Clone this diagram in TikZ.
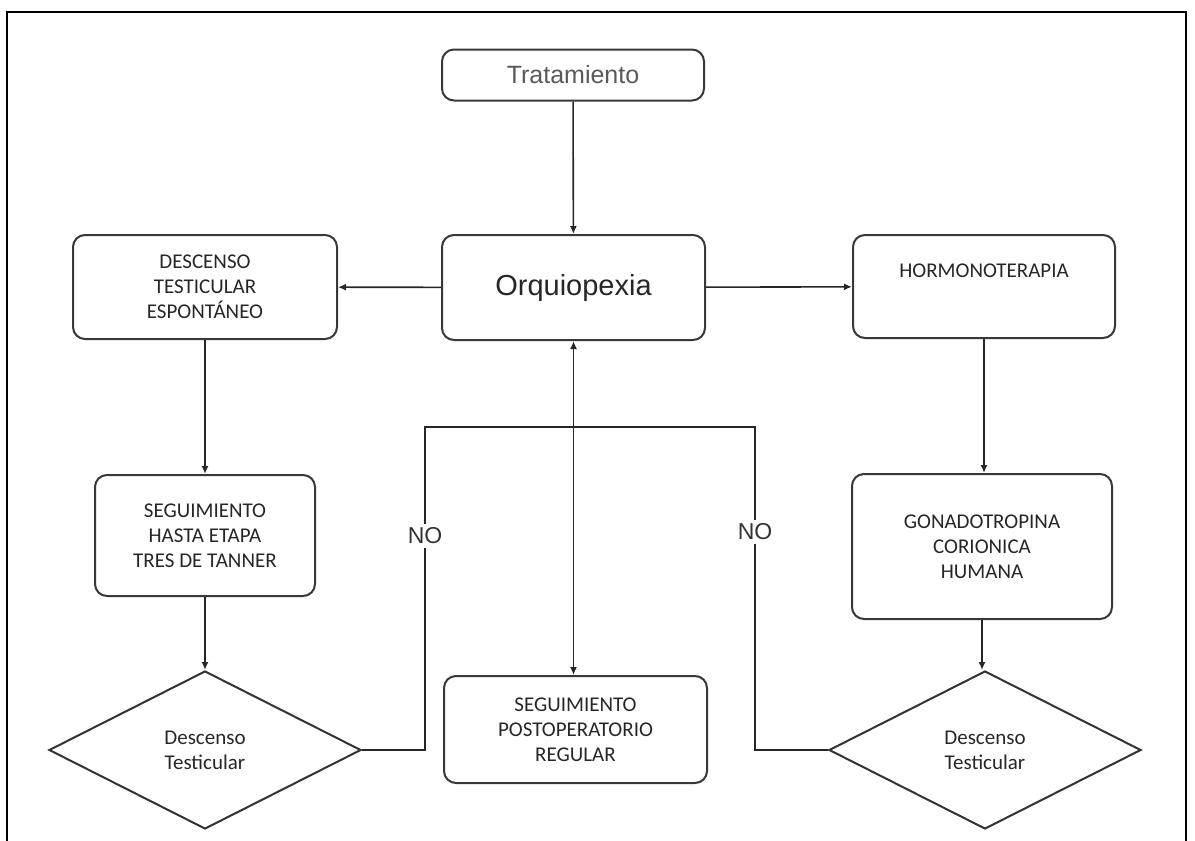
\documentclass[tikz,border=0pt]{standalone}
\usepackage{fontspec}
\setmainfont{Carlito}
\newfontfamily\arialfont{Liberation Sans}
\usetikzlibrary{shapes.geometric,arrows.meta}

\begin{document}
\begin{tikzpicture}[x=0.5pt,y=-0.5pt,
        box/.style={draw=black!78,line width=1pt,rounded corners=6pt,
            align=center,inner sep=0pt,text=black!85,
            font=\fontsize{10.5}{12.5}\selectfont},
        decision/.style={diamond,draw=black!80,line width=1pt,align=center,
            inner sep=0pt,text=black!85,font=\fontsize{10.5}{12.5}\selectfont},
        link/.style={draw=black!85,line width=0.8pt,-{Latex[length=4pt,width=3.5pt]}},
        nolabel/.style={fill=white,inner sep=2pt,text=black!80,
            font=\arialfont\fontsize{11.5}{13}\selectfont}
        ]
        \useasboundingbox (0,0) rectangle (1195,841);
        % frame
        \draw[line width=1pt] (7,841) -- (7,12) -- (1186,12) -- (1186,841);

        % Top
        \node[box,minimum width=131pt,minimum height=25.5pt] (trat) at (573,75)
            {\arialfont\fontsize{12.5}{14}\selectfont\color{black!65}Tratamiento};
        \node[box,minimum width=131.5pt,minimum height=52.5pt] (orq) at (573.5,287.5)
            {\arialfont\fontsize{14.5}{16}\selectfont Orquiopexia};
        \node[box,minimum width=132pt,minimum height=52pt] (desc) at (205,287)
            {DESCENSO\\TESTICULAR\\ESPONTÁNEO};
        \node[box,minimum width=131pt,minimum height=51.5pt] (horm) at (984,286.5)
            {HORMONOTERAPIA\\\strut};

        % Middle
        \node[box,minimum width=110pt,minimum height=60.5pt] (tanner) at (205,535.5)
            {SEGUIMIENTO\\HASTA ETAPA\\TRES DE TANNER};
        \node[box,minimum width=130pt,minimum height=72.5pt] (gona) at (982,546.5)
            {GONADOTROPINA\\CORIONICA\\HUMANA};

        % Bottom
        \node[decision,minimum width=156pt,minimum height=79pt] (diamL) at (205,750)
            {Descenso\\Testicular};
        \node[box,minimum width=131.5pt,minimum height=53.5pt] (post) at (575.5,729.5)
            {SEGUIMIENTO\\POSTOPERATORIO\\REGULAR};
        \node[decision,minimum width=156pt,minimum height=79pt] (diamR) at (985,750)
            {Descenso\\Testicular};

        \draw[link] (trat) -- (orq);
        \draw[link] (orq) -- (desc);
        \draw[link] (orq) -- (horm);
        \draw[link] (desc) -- (tanner);
        \draw[link] (tanner) -- (diamL);
        \draw[link] (horm.south) -- (horm.south |- gona.north);
        \draw[link] (gona.south) -- (gona.south |- diamR.north);
        \draw[link,{Latex[length=4pt,width=3.5pt]}-{Latex[length=4pt,width=3.5pt]}]
            (orq.south) -- (orq.south |- post.north);

        % NO loop
        \coordinate (noL) at (425,427);
        \coordinate (noR) at (755,427);
        \draw[draw=black!85,line width=0.8pt] (diamL.east) -| (noL) -- (noR) |- (diamR.west);
        \node[nolabel] (noa) at (425,536) {NO};
        \node[nolabel] (nob) at (755,532) {NO};
\end{tikzpicture}
\end{document}
